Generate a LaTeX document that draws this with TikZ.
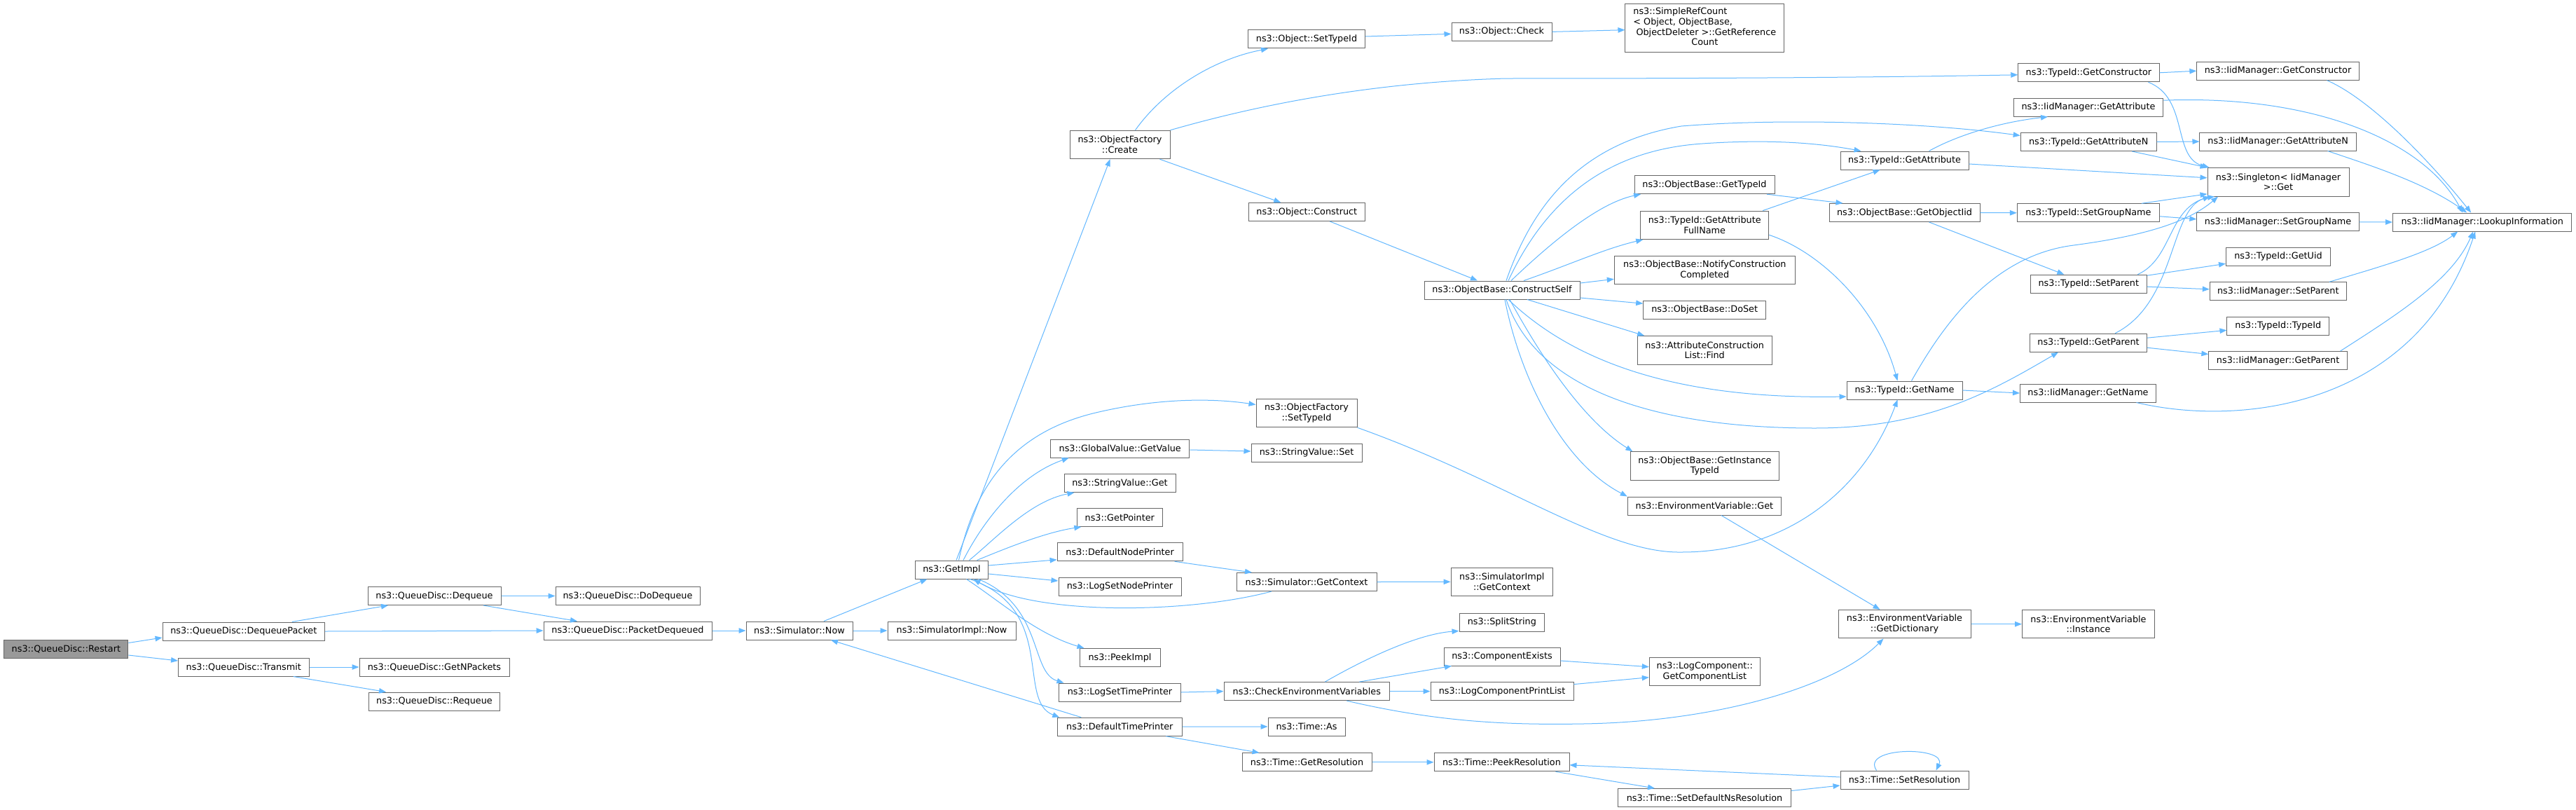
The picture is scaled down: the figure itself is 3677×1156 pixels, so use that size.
\documentclass[tikz,border=0pt]{standalone}
\usepackage{fontspec}
\setmainfont{DejaVu Sans}
\usetikzlibrary{arrows.meta}
\definecolor{edgeblue}{HTML}{63B8FF}
\definecolor{boxgray}{HTML}{666666}
\definecolor{restartgray}{HTML}{999999}
\newcommand{\mkbox}[6]{\node[nbox,minimum width=#4pt,minimum height=#5pt] (#1) at (#2,#3) {#6};}
\begin{document}
\begin{tikzpicture}[x=1pt,y=-1pt,
  nbox/.style={draw=boxgray,fill=white,line width=1pt,inner sep=0pt,align=center,
    font=\fontsize{12.8pt}{14.8pt}\selectfont},
  conn/.style={draw=edgeblue,line width=1pt,-{Triangle[length=10pt,width=7.5pt,fill=edgeblue]}}]
\fill[white] (0,0) rectangle (3677,1156);
\useasboundingbox (0,0) rectangle (3677,1156);
% nodes
\node[nbox,fill=restartgray,minimum width=177pt,minimum height=26pt] (R) at (94.4,926.5) {ns3::QueueDisc::Restart};
\mkbox{DP}{347.8}{901}{231.5}{26}{ns3::QueueDisc::DequeuePacket}
\mkbox{TR}{347.8}{952}{186.4}{26}{ns3::QueueDisc::Transmit}
\mkbox{DQ}{620}{850.5}{190}{26}{ns3::QueueDisc::Dequeue}
\mkbox{GNP}{620}{952}{214}{26}{ns3::QueueDisc::GetNPackets}
\mkbox{RQ}{620}{1001}{186.5}{26}{ns3::QueueDisc::Requeue}
\mkbox{DDQ}{896}{850.5}{206}{26}{ns3::QueueDisc::DoDequeue}
\mkbox{PD}{896}{900}{240}{26}{ns3::QueueDisc::PacketDequeued}
\mkbox{SN}{1141}{900}{152}{26}{ns3::Simulator::Now}
\mkbox{GI}{1358.5}{813}{104}{26}{ns3::GetImpl}
\mkbox{SIN}{1358.5}{900}{183}{26}{ns3::SimulatorImpl::Now}
\mkbox{OFC}{1598.5}{206.5}{143}{40.5}{ns3::ObjectFactory\\::Create}
\mkbox{GV}{1598.7}{640}{198.5}{26}{ns3::GlobalValue::GetValue}
\mkbox{SVG}{1598.5}{689.5}{159}{26}{ns3::StringValue::Get}
\mkbox{GP}{1598.3}{738.5}{122.5}{26}{ns3::GetPointer}
\mkbox{DNP}{1598.6}{787.8}{179}{26}{ns3::DefaultNodePrinter}
\mkbox{LSNP}{1598.5}{837}{175}{26}{ns3::LogSetNodePrinter}
\mkbox{PI}{1598.5}{938.5}{115}{26}{ns3::PeekImpl}
\mkbox{LSTP}{1598.5}{988}{173.6}{26}{ns3::LogSetTimePrinter}
\mkbox{DTP}{1598.3}{1037.2}{178}{26}{ns3::DefaultTimePrinter}
\mkbox{OST}{1865}{56}{167}{26}{ns3::Object::SetTypeId}
\mkbox{OCN}{1865.3}{302.5}{166.5}{26}{ns3::Object::Construct}
\mkbox{OFST}{1865}{589.5}{144}{40.5}{ns3::ObjectFactory\\::SetTypeId}
\mkbox{SVS}{1865}{646}{158}{26}{ns3::StringValue::Set}
\mkbox{SGC}{1865}{830.5}{200}{26}{ns3::Simulator::GetContext}
\mkbox{CEV}{1865.3}{986.6}{236.6}{26}{ns3::CheckEnvironmentVariables}
\mkbox{TA}{1865}{1037}{110}{26}{ns3::Time::As}
\mkbox{TGR}{1865.5}{1087.8}{185}{26}{ns3::Time::GetResolution}
\mkbox{OCK}{2143.5}{45.4}{143}{26}{ns3::Object::Check}
\mkbox{CS}{2144}{414}{222}{26}{ns3::ObjectBase::ConstructSelf}
\mkbox{SIGC}{2143.8}{830.3}{145.5}{40.5}{ns3::SimulatorImpl\\::GetContext}
\mkbox{SS}{2143.8}{888}{121.6}{26}{ns3::SplitString}
\mkbox{CE}{2144}{937}{166}{26}{ns3::ComponentExists}
\mkbox{LCPL}{2144}{986.6}{204}{26}{ns3::LogComponentPrintList}
\mkbox{TPR}{2143.5}{1087.8}{193}{26}{ns3::Time::PeekResolution}
\node[nbox,minimum width=226.7pt,minimum height=69.3pt] (SRC) at (2433.3,39.7) {\begin{tabular}{@{}l@{}}ns3::SimpleRefCount\\< Object, ObjectBase,\\\ ObjectDeleter >::GetReference\\\multicolumn{1}{@{}c@{}}{Count}\end{tabular}};
\mkbox{OBGT}{2433}{263.7}{200}{26}{ns3::ObjectBase::GetTypeId}
\mkbox{GAFN}{2433.2}{321.3}{183}{40.5}{ns3::TypeId::GetAttribute\\FullName}
\mkbox{NCC}{2433.3}{385.3}{258}{40.5}{ns3::ObjectBase::NotifyConstruction\\Completed}
\mkbox{DS}{2433.2}{442.2}{175}{26}{ns3::ObjectBase::DoSet}
\mkbox{ACF}{2433.2}{499.8}{192.3}{40.5}{ns3::AttributeConstruction\\List::Find}
\mkbox{GITI}{2433.4}{665}{212.2}{40.5}{ns3::ObjectBase::GetInstance\\TypeId}
\mkbox{EVG}{2432.9}{722}{219.2}{26}{ns3::EnvironmentVariable::Get}
\mkbox{LCGCL}{2433.3}{958.7}{158}{40.5}{ns3::LogComponent::\\GetComponentList}
\mkbox{TSDN}{2433}{1138.5}{247.4}{26}{ns3::Time::SetDefaultNsResolution}
\mkbox{TGA}{2718.5}{229}{183}{26}{ns3::TypeId::GetAttribute}
\mkbox{OBGO}{2718.5}{303.5}{215}{26}{ns3::ObjectBase::GetObjectIid}
\mkbox{TGN}{2718.5}{557}{165}{26}{ns3::TypeId::GetName}
\mkbox{EVGD}{2718.5}{890.7}{189}{40.5}{ns3::EnvironmentVariable\\::GetDictionary}
\mkbox{TSR}{2718.5}{1113}{183}{26}{ns3::Time::SetResolution}
\mkbox{TGC}{2981.4}{103.8}{201.3}{26}{ns3::TypeId::GetConstructor}
\mkbox{IGA}{2981}{153.2}{213.6}{26}{ns3::IidManager::GetAttribute}
\mkbox{TGAN}{2981.2}{202.5}{194}{26}{ns3::TypeId::GetAttributeN}
\mkbox{TSGN}{2980.9}{303.8}{203.2}{26}{ns3::TypeId::SetGroupName}
\mkbox{TSP}{2981.3}{405.2}{166}{26}{ns3::TypeId::SetParent}
\mkbox{TGP}{2981}{489.2}{167}{26}{ns3::TypeId::GetParent}
\mkbox{IGN}{2980.5}{561}{194}{26}{ns3::IidManager::GetName}
\mkbox{EVI}{2981}{890.7}{189}{40.5}{ns3::EnvironmentVariable\\::Instance}
\mkbox{IGC}{3251.5}{101.2}{231.3}{26}{ns3::IidManager::GetConstructor}
\mkbox{IGAN}{3251.6}{202}{223.3}{26}{ns3::IidManager::GetAttributeN}
\mkbox{SG}{3252}{259.8}{202}{40.5}{ns3::Singleton< IidManager\\>::Get}
\mkbox{ISGN}{3251.5}{316.8}{231.3}{26}{ns3::IidManager::SetGroupName}
\mkbox{TGU}{3252}{366.3}{149}{26}{ns3::TypeId::GetUid}
\mkbox{ISP}{3251.8}{415.8}{195}{26}{ns3::IidManager::SetParent}
\mkbox{TTI}{3251.8}{465.3}{145.7}{26}{ns3::TypeId::TypeId}
\mkbox{IGP}{3251.6}{514.5}{197.5}{26}{ns3::IidManager::GetParent}
\mkbox{ILI}{3543.2}{317}{255.4}{26}{ns3::IidManager::LookupInformation}
% edges
\draw[conn] ([yshift=9pt]R.east) -- ([yshift=-9pt]DP.west);
\draw[conn] ([yshift=-8.5pt]R.east) -- ([yshift=9pt]TR.west);
\draw[conn] ([xshift=69pt]DP.north) -- ([xshift=-66pt]DQ.south);
\draw[conn] (DP.east) -- (PD.west);
\draw[conn] (DQ.east) -- (DDQ.west);
\draw[conn] ([xshift=70pt]DQ.south) -- ([xshift=-72pt]PD.north);
\draw[conn] (PD.east) -- (SN.west);
\draw[conn] (TR.east) -- (GNP.west);
\draw[conn] ([xshift=71pt]TR.south) -- ([xshift=-69pt]RQ.north);
\draw[conn] ([xshift=35pt]SN.north) -- ([xshift=-35pt]GI.south);
\draw[conn] (SN.east) -- (SIN.west);
\draw[conn] ([xshift=6.5pt]GI.north) -- ([xshift=-14pt]OFC.south);
\draw[conn] ([xshift=10pt]GI.north) .. controls (1390,700) and (1440,620) .. (1560,590) .. controls (1650,568) and (1730,568) .. ([yshift=12pt]OFST.west);
\draw[conn] ([xshift=16.5pt]GI.north) .. controls (1400,750) and (1450,680) .. ([xshift=-73pt]GV.south);
\draw[conn] ([xshift=25pt]GI.north) .. controls (1420,770) and (1470,715) .. ([xshift=-65pt]SVG.south);
\draw[conn] ([xshift=36pt]GI.north) .. controls (1430,785) and (1490,760) .. ([xshift=-55pt]GP.south);
\draw[conn] ([yshift=6pt]GI.east) -- ([yshift=-11pt]DNP.west);
\draw[conn] ([yshift=-6pt]GI.east) -- ([yshift=8pt]LSNP.west);
\draw[conn] ([xshift=21pt]GI.south) .. controls (1430,860) and (1480,905) .. ([xshift=-51pt]PI.north);
\draw[conn] ([xshift=38pt]GI.south) .. controls (1490,865) and (1470,960) .. ([xshift=-80pt]LSTP.north);
\draw[conn] ([xshift=26pt]GI.south) .. controls (1510,870) and (1450,1000) .. ([xshift=-86pt]DTP.north);
\draw[conn] ([xshift=-50pt]SGC.south) .. controls (1700,875) and (1480,880) .. ([xshift=31pt]GI.south);
\draw[conn] ([xshift=-55pt]DTP.north) -- ([xshift=45pt]SN.south);
\draw[conn] ([xshift=78pt]DNP.south) -- ([xshift=-78pt]SGC.north);
\draw[conn] (SGC.east) -- (SIGC.west);
\draw[conn] ([yshift=-2pt]GV.east) -- ([yshift=2pt]SVS.west);
\draw[conn] (LSTP.east) -- (CEV.west);
\draw[conn] ([xshift=26pt]CEV.north) .. controls (1940,945) and (2020,905) .. ([yshift=1pt]SS.south west);
\draw[conn] ([xshift=75pt]CEV.north) -- ([xshift=-72pt]CE.south);
\draw[conn] (CEV.east) -- (LCPL.west);
\draw[conn] ([xshift=57pt]CEV.south) .. controls (2050,1030) and (2150,1035) .. (2260,1033) .. controls (2450,1030) and (2620,980) .. ([xshift=-30pt]EVGD.south);
\draw[conn] ([yshift=-6pt]CE.east) -- ([yshift=7pt]LCGCL.west);
\draw[conn] ([yshift=10pt]LCPL.east) -- ([yshift=-8pt]LCGCL.west);
\draw[conn] (DTP.east) -- (TA.west);
\draw[conn] ([xshift=66pt]DTP.south) -- ([xshift=-68pt]TGR.north);
\draw[conn] (TGR.east) -- (TPR.west);
\draw[conn] ([xshift=77pt]TPR.south) -- ([xshift=-71pt]TSDN.north);
\draw[conn] ([yshift=10pt]TSDN.east) -- ([yshift=-8pt]TSR.west);
\draw[conn] ([yshift=4pt]TSR.west) -- ([yshift=-4pt]TPR.east);
\draw[conn] ([xshift=-40pt]TSR.north) .. controls (2655,1065) and (2780,1065) .. ([xshift=45pt]TSR.north);
\draw[conn] ([xshift=22pt]OFC.north) .. controls (1660,130) and (1730,85) .. ([xshift=-55pt]OST.south);
\draw[conn] (OFC.north east) .. controls (1760,160) and (1930,118) .. (2150,112) .. controls (2500,112) and (2700,110) .. ([yshift=-3pt]TGC.west);
\draw[conn] ([xshift=57pt]OFC.south) -- ([xshift=-37pt]OCN.north);
\draw[conn] ([yshift=4pt]OST.east) -- ([yshift=-3pt]OCK.west);
\draw[conn] (OCK.east) -- ([yshift=-3pt]SRC.west);
\draw[conn] ([xshift=33pt]OCN.south) -- ([xshift=-35pt]CS.north);
\draw[conn] (OFST.south east) .. controls (2150,686) and (2290,790) .. (2400,788) .. controls (2550,788) and (2660,700) .. ([xshift=-10pt]TGN.south);
\draw[conn] ([xshift=13pt]CS.north) .. controls (2210,350) and (2280,290) .. ([xshift=-91pt]OBGT.south);
\draw[conn] ([xshift=31pt]CS.north) .. controls (2240,378) and (2290,355) .. ([xshift=-88pt]GAFN.south);
\draw[conn] ([xshift=9pt]CS.north) .. controls (2200,300) and (2280,215) .. (2430,205) .. controls (2530,198) and (2600,205) .. ([xshift=-62pt]TGA.north);
\draw[conn] ([xshift=6pt]CS.north) .. controls (2185,300) and (2250,205) .. (2400,180) .. controls (2550,168) and (2750,175) .. ([yshift=9pt]TGAN.west);
\draw[conn] ([yshift=10pt]CS.east) -- ([yshift=-13pt]NCC.west);
\draw[conn] ([yshift=-11pt]CS.east) -- ([yshift=9pt]DS.west);
\draw[conn] ([xshift=36pt]CS.south) -- ([xshift=-86pt]ACF.north);
\draw[conn] ([xshift=9pt]CS.south) .. controls (2250,520) and (2400,570) .. ([yshift=-9pt]TGN.west);
\draw[conn] ([xshift=6pt]CS.south) .. controls (2190,550) and (2350,611) .. (2590,611) .. controls (2750,611) and (2840,560) .. ([xshift=-43pt]TGP.south);
\draw[conn] ([xshift=11pt]CS.south) .. controls (2200,510) and (2260,600) .. ([xshift=-103pt]GITI.north);
\draw[conn] ([xshift=4pt]CS.south) .. controls (2170,540) and (2230,660) .. (EVG.north west);
\draw[conn] ([xshift=89pt]OBGT.south) -- ([xshift=-88pt]OBGO.north);
\draw[conn] ([xshift=83pt]GAFN.north) -- ([xshift=-35pt]TGA.south);
\draw[conn] ([yshift=-14pt]GAFN.east) .. controls (2600,360) and (2680,440) .. ([xshift=-10pt]TGN.north);
\draw[conn] ([xshift=35pt]TGA.north) .. controls (2790,195) and (2850,175) .. ([xshift=-58pt]IGA.south);
\draw[conn] ([yshift=-5pt]TGA.east) -- ([yshift=6pt]SG.west);
\draw[conn] (TGAN.east) -- (IGAN.west);
\draw[conn] ([xshift=62pt]TGAN.south) -- (SG.north west);
\draw[conn] (TGC.east) -- (IGC.west);
\draw[conn] ([xshift=85pt]TGC.south) .. controls (3125,140) and (3100,225) .. ([xshift=3pt]SG.north west);
\draw[conn] (OBGO.east) -- (TSGN.west);
\draw[conn] ([xshift=35pt]OBGO.south) -- ([xshift=-35pt]TSP.north);
\draw[conn] ([xshift=76pt]TSGN.north) -- ([yshift=-17pt]SG.west);
\draw[conn] ([yshift=-5pt]TSGN.east) -- ([yshift=4pt]ISGN.west);
\draw[conn] (ISGN.east) -- (ILI.west);
\draw[conn] ([yshift=12pt]TSP.east) -- ([yshift=-10pt]TGU.west);
\draw[conn] ([yshift=-4pt]TSP.east) -- ([yshift=3pt]ISP.west);
\draw[conn] ([xshift=70pt]TSP.north) .. controls (3100,370) and (3095,300) .. ([xshift=4pt]SG.south west);
\draw[conn] ([yshift=7pt]TGP.east) -- ([yshift=-6pt]TTI.west);
\draw[conn] ([yshift=-7pt]TGP.east) -- ([yshift=9pt]IGP.west);
\draw[conn] ([xshift=38pt]TGP.north) .. controls (3110,430) and (3095,290) .. ([xshift=-91pt]SG.south);
\draw[conn] (TGN.east) -- (IGN.west);
\draw[conn] ([xshift=10pt]TGN.north) .. controls (2770,470) and (2840,365) .. (2960,350) .. controls (3050,338) and (3120,320) .. ([xshift=-86pt]SG.south);
\draw[conn] ([xshift=69pt]IGN.south) .. controls (3200,610) and (3450,580) .. ([xshift=-10pt]ILI.south);
\draw[conn] ([xshift=70pt]IGC.south) .. controls (3380,140) and (3460,220) .. ([xshift=-16pt]ILI.north);
\draw[conn] ([yshift=10pt]IGA.east) .. controls (3300,135) and (3460,200) .. ([xshift=-28pt]ILI.north);
\draw[conn] ([xshift=71pt]IGAN.south) .. controls (3380,235) and (3460,260) .. ([xshift=-22pt]ILI.north);
\draw[conn] ([xshift=73pt]ISP.north) .. controls (3400,380) and (3470,360) .. ([xshift=-35pt]ILI.south);
\draw[conn] ([xshift=89pt]IGP.north) .. controls (3420,450) and (3500,400) .. ([xshift=-13pt]ILI.south);
\draw[conn] ([xshift=24pt]EVG.south) -- ([xshift=-35pt]EVGD.north);
\draw[conn] (EVGD.east) -- (EVI.west);
\end{tikzpicture}
\end{document}
